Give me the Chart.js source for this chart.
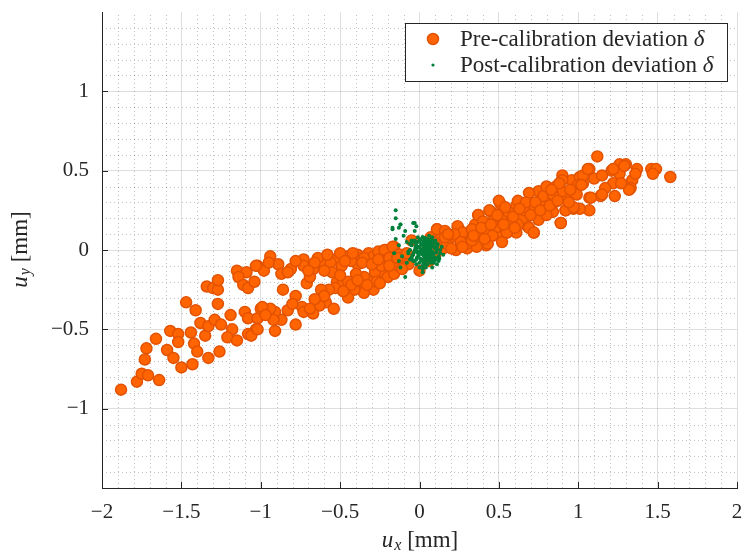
<!DOCTYPE html>
<html>
<head>
<meta charset="utf-8">
<script src="https://cdn.jsdelivr.net/npm/chart.js@4.4.1/dist/chart.umd.min.js"></script>
<style>
  body { margin: 0; background: #fff; }
  canvas { display: block; }
</style>
</head>
<body>
<canvas id="devChart" width="744" height="554"></canvas>
<script>
// pre-calibration deviation (mm)
const preX = [
  -1.88, -1.78, -1.75, -1.71, -1.64, -1.73, -1.72, -1.66, -1.59, -1.55, -1.50, -1.57, -1.52, -1.52,
  -1.47, -1.41, -1.44, -1.42, -1.40, -1.43, -1.35, -1.38, -1.33, -1.29, -1.25, -1.33, -1.26, -1.27,
  -1.34, -1.30, -1.27, -1.27, -1.19, -1.18, -1.21, -1.15, -1.15, -1.09, -1.14, -1.11, -1.08, -1.04,
  -1.02, -1.10, -1.08, -1.02, -1.00, -1.03, -1.08, -1.06,
  -0.94, -0.98, -1.03, -0.89, -0.87, -0.81, -0.73, -0.73, -0.67, -0.61, -0.53, -0.49, -0.45, -0.39,
  -0.39, -0.32, -0.29, -0.22, -0.21, -0.16, -0.17, -0.12, -0.56, -0.83, -0.71, -0.86, -0.52, -0.48,
  -0.45, -0.37, -0.31, -0.23, -0.20, -0.29, -0.35, -0.41, -0.45, -0.53, -0.57, -0.62, -0.59, -0.63,
  -0.54, -0.78, -0.74, -0.73, -0.67, -0.83, -0.87, -0.91, -0.94, -0.99, -0.78, -0.91, -1.02, -0.35,
  -0.28, -0.16, -0.16,
  -0.64, -0.58, -0.43, -0.35, -0.26, -0.24, -0.10, -0.13, -0.40, -0.27, -0.55, -0.95, -0.78, -0.69,
  -0.22, -0.17, -0.13, -0.19, 0.11, 0.13, 0.15, 0.10, -0.07, -0.11, 0.00, 0.06, -0.05, 0.05,
  0.07, 0.11, 0.16, 0.13, 0.20, 0.23, 0.25, 0.28, 0.30, 0.31, 0.35, 0.37, 0.38, 0.42, 0.43, 0.45,
  0.47, 0.51, 0.52, 0.50, 0.52, 0.55, 0.57, 0.61, 0.61, 0.64, 0.68, 0.69, 0.72, 0.75, 0.79, 0.84,
  0.89, 0.92, 0.96, 0.43, 0.36, 0.17, 0.20,
  1.12, 0.90, 0.96, 1.01, 1.07, 1.10, 1.00, 1.03, 1.15, 1.21, 1.26, 1.30, 1.37, 1.46, 1.49, 1.58,
  1.47, 1.26, 1.34, 1.36, 1.33, 1.32, 1.22, 1.17, 1.14, 1.23, 1.07, 0.98, 1.07, 1.01, 0.97, 0.89,
  0.92, 0.86, 0.79, 0.75, 0.69, 0.50, 0.62, 0.56, 0.44, 0.37, 0.69, 0.72, 0.24, 0.16, 0.30, 0.55,
  0.71, 0.78, 1.22, 1.29, 1.27, 1.15, 1.08, 0.99, 0.92, 0.90, 0.90, 1.03, 1.06, 1.02, 0.97,
  0.40, 0.48, 0.58, 0.65, 0.80, 0.85, 0.62, 0.33, 0.27, 0.46, 0.84, 0.80,
  0.22, 0.26, 0.33, 0.39, 0.41, 0.45, 0.49, 0.53, 0.54, 0.59, 0.60, 0.66, 0.67, 0.70, 0.73, 0.76,
  0.82, 0.87, 0.94, 0.95, 0.88, 0.83, 0.63, 0.18, 0.09, 0.27, 0.34,
  -0.50, -0.47, -0.42, -0.36, -0.30, -0.26, -0.19, -0.14, -0.08, -0.66, -0.70, -0.60, -0.50, -0.43,
  -0.39, -0.33, -0.25, -0.48, -0.60, -0.66, -0.69, -0.80, -0.92, -0.97
];
const preY = [
  -0.88, -0.83, -0.78, -0.79, -0.82, -0.69, -0.62, -0.56, -0.63, -0.68, -0.74, -0.51, -0.53, -0.58,
  -0.33, -0.38, -0.52, -0.59, -0.64, -0.72, -0.54, -0.46, -0.48, -0.44, -0.47, -0.68, -0.64, -0.34,
  -0.23, -0.24, -0.25, -0.19, -0.41, -0.50, -0.55, -0.57, -0.13, -0.14, -0.17, -0.22, -0.24, -0.20,
  -0.10, -0.39, -0.43, -0.43, -0.37, -0.50, -0.53, -0.54,
  -0.04, -0.13, -0.10, -0.09, -0.15, -0.12, -0.06, -0.10, -0.12, -0.08, -0.06, -0.10, -0.04, -0.09,
  -0.03, -0.02, -0.04, -0.07, 0.00, 0.02, -0.06, -0.03, -0.08, -0.14, -0.21, -0.25, -0.20, -0.20,
  -0.20, -0.20, -0.19, -0.14, -0.17, -0.25, -0.27, -0.25, -0.30, -0.24, -0.25, -0.25, -0.33, -0.35,
  -0.37, -0.29, -0.36, -0.39, -0.40, -0.38, -0.44, -0.39, -0.37, -0.36, -0.47, -0.51, -0.50, -0.17,
  -0.14, -0.08, -0.15,
  -0.05, -0.03, -0.07, -0.05, -0.01, -0.10, -0.07, -0.10, -0.15, -0.20, -0.14, -0.08, -0.07, -0.17,
  0.00, 0.02, -0.03, -0.05, 0.13, 0.07, 0.01, -0.03, -0.09, -0.12, -0.13, -0.07, 0.06, 0.03,
  0.08, 0.13, 0.12, 0.04, 0.08, 0.00, 0.13, 0.08, 0.01, 0.11, 0.16, 0.22, 0.08, 0.03, 0.12, 0.24,
  0.19, 0.29, 0.20, 0.11, 0.05, 0.11, 0.24, 0.28, 0.11, 0.22, 0.15, 0.27, 0.11, 0.19, 0.29, 0.24,
  0.17, 0.25, 0.27, 0.04, 0.02, 0.04, 0.01,
  0.59, 0.47, 0.44, 0.46, 0.51, 0.45, 0.41, 0.42, 0.47, 0.50, 0.54, 0.54, 0.51, 0.51, 0.51, 0.46,
  0.48, 0.48, 0.44, 0.48, 0.39, 0.38, 0.42, 0.39, 0.34, 0.34, 0.33, 0.36, 0.25, 0.26, 0.26, 0.17,
  0.25, 0.40, 0.31, 0.37, 0.36, 0.31, 0.31, 0.24, 0.25, 0.22, 0.14, 0.11, 0.15, 0.08, 0.04, 0.11,
  0.27, 0.34, 0.51, 0.53, 0.42, 0.35, 0.33, 0.35, 0.34, 0.37, 0.44, 0.47, 0.51, 0.41, 0.27,
  0.18, 0.14, 0.18, 0.20, 0.22, 0.30, 0.16, 0.06, 0.11, 0.09, 0.35, 0.40,
  0.10, 0.05, 0.13, 0.14, 0.07, 0.16, 0.22, 0.16, 0.27, 0.21, 0.14, 0.25, 0.30, 0.22, 0.30, 0.25,
  0.28, 0.31, 0.30, 0.38, 0.42, 0.38, 0.26, 0.10, 0.05, 0.02, 0.09,
  -0.02, -0.07, -0.02, -0.08, -0.09, -0.06, -0.10, -0.05, -0.02, -0.08, -0.13, -0.13, -0.16, -0.22,
  -0.19, -0.22, -0.21, -0.26, -0.29, -0.31, -0.37, -0.34, -0.44, -0.41
];

// post-calibration deviation (mm)
const postX = [
  0.02, 0.04, 0.00, 0.05, -0.01, 0.06, 0.02, -0.02, 0.03, 0.07, 0.01, 0.04, -0.03, 0.08, 0.06, 0.00,
  0.09, -0.04, 0.02, 0.07, -0.02, 0.10, 0.03, -0.05, 0.08, 0.05, 0.01, 0.06, 0.03, 0.04, 0.00, 0.05,
  0.01, 0.07, 0.06, -0.02, 0.09, -0.01, 0.03, 0.08, 0.04, -0.04, 0.11, 0.00, 0.12, 0.04, -0.05, 0.10,
  0.05, -0.03, 0.13, -0.06, 0.05, 0.07, 0.02, 0.08, 0.11, -0.04, 0.13, -0.01, 0.02, 0.10, 0.09, -0.05,
  0.12, 0.04, -0.07, 0.14, -0.02, 0.06, 0.15, -0.06, 0.11, 0.08,
  0.015, 0.035, 0.045, 0.065, 0.025, 0.075, -0.005, 0.035, 0.085, 0.015, 0.095, -0.025, 0.055, 0.045,
  -0.015, 0.075, 0.105, 0.025, -0.035, 0.055, 0.115, 0.065, -0.025, 0.025, 0.095, 0.005, 0.085, -0.045,
  0.125, 0.035, 0.055, 0.035, 0.065, 0.015, 0.075, 0.045, -0.005, 0.095, 0.025, 0.005,
  -0.15, -0.04, -0.02, -0.12, -0.13, -0.17, -0.09, -0.03, -0.15, -0.10, -0.08, -0.13, 0.02, 0.06,
  0.10, 0.11, 0.12, 0.09, 0.08, 0.03, 0.00, -0.05, -0.06, -0.08, -0.11, 0.02, -0.03, 0.04, 0.06,
  -0.07, -0.02, -0.15, -0.12, -0.03, -0.17, -0.16, -0.13, -0.12, -0.09, 0.02, 0.11
];
const postY = [
  -0.01, 0.01, 0.02, -0.03, -0.02, 0.02, 0.04, 0.03, -0.05, -0.01, -0.06, 0.05, 0.00, 0.03, -0.05, 0.06,
  -0.02, -0.03, -0.07, 0.05, -0.06, 0.01, 0.07, 0.03, -0.06, 0.00, 0.00, 0.04, 0.02, -0.02, -0.01, 0.03,
  0.04, 0.01, -0.03, -0.01, 0.04, 0.05, -0.03, -0.01, -0.07, 0.05, 0.02, -0.08, -0.04, 0.06, -0.05, -0.05,
  0.07, 0.06, 0.00, 0.00, -0.09, -0.08, -0.10, 0.06, 0.04, -0.07, -0.02, 0.08, 0.08, 0.06, -0.08, 0.06,
  -0.07, -0.11, -0.02, 0.02, -0.09, 0.09, -0.03, 0.04, -0.09, 0.08,
  0.005, -0.015, 0.025, -0.015, -0.035, 0.025, -0.035, 0.045, -0.035, 0.035, 0.015, 0.015, 0.045, -0.045,
  -0.045, -0.055, -0.015, 0.055, -0.015, -0.065, 0.035, 0.065, 0.045, -0.085, -0.065, 0.065, 0.045, -0.035,
  -0.055, 0.075, 0.015, 0.005, 0.035, -0.025, -0.035, 0.045, 0.015, -0.045, 0.025, -0.055,
  0.20, 0.17, 0.15, 0.16, 0.14, 0.13, 0.12, 0.12, 0.07, 0.09, 0.05, 0.03, 0.08, 0.06,
  0.05, 0.00, -0.05, -0.07, -0.11, -0.09, -0.11, -0.05, -0.06, -0.08, -0.04, -0.12, -0.07, -0.03, -0.01,
  -0.01, 0.01, 0.25, 0.16, 0.17, 0.14, -0.02, -0.07, -0.11, -0.17, -0.14, -0.06
];

const xTicks = [-2, -1.5, -1, -0.5, 0, 0.5, 1, 1.5, 2];
const yTicks = [-1, -0.5, 0, 0.5, 1];

const serif = '"Liberation Serif", "DejaVu Serif", serif';
const axisColor = '#262626';

function toPoints(xs, ys) {
    return xs.map(function (v, i) { return { x: v, y: ys[i] }; });
}

function fmt(v) {
    return v < 0 ? '\u2212' + Math.abs(v) : String(v);
}

// text with a subscript, e.g. u_x [mm]
function drawSubLabel(ctx, base, sub, rest, cx, cy, rotate) {
    ctx.save();
    ctx.translate(cx, cy);
    if (rotate) ctx.rotate(-Math.PI / 2);
    const big = 'italic 23px ' + serif;
    const small = 'italic 16px ' + serif;
    const plain = '23px ' + serif;
    ctx.font = big; const w1 = ctx.measureText(base).width;
    ctx.font = small; const w2 = ctx.measureText(sub).width;
    ctx.font = plain; const w3 = ctx.measureText(rest).width;
    let x = -(w1 + w2 + w3) / 2;
    ctx.fillStyle = axisColor;
    ctx.textBaseline = 'middle';
    ctx.textAlign = 'left';
    ctx.font = big; ctx.fillText(base, x, 0); x += w1 + 1;
    ctx.font = small; ctx.fillText(sub, x, 5); x += w2;
    ctx.font = plain; ctx.fillText(rest, x, 0);
    ctx.restore();
}

const extras = {
    id: 'extras',
    beforeDatasetsDraw(chart) {
        const ctx = chart.ctx, a = chart.chartArea;
        const xs = chart.scales.x, ys = chart.scales.y;
        ctx.save();
        // minor grid, dotted
        ctx.strokeStyle = 'rgba(0,0,0,0.24)';
        ctx.lineWidth = 1;
        ctx.setLineDash([1, 3]);
        for (let i = -20; i <= 20; i++) {
            if (i % 5 === 0) continue;
            const px = Math.round(xs.getPixelForValue(i / 10)) + 0.5;
            ctx.beginPath(); ctx.moveTo(px, a.bottom); ctx.lineTo(px, a.top); ctx.stroke();
        }
        for (let i = -15; i <= 15; i++) {
            if (i % 5 === 0) continue;
            const py = Math.round(ys.getPixelForValue(i / 10)) + 0.5;
            ctx.beginPath(); ctx.moveTo(a.left, py); ctx.lineTo(a.right, py); ctx.stroke();
        }
        ctx.restore();
    },
    afterDraw(chart) {
        const ctx = chart.ctx, a = chart.chartArea;
        const xs = chart.scales.x, ys = chart.scales.y;
        ctx.save();
        // inward tick marks
        ctx.strokeStyle = axisColor;
        ctx.lineWidth = 1;
        xTicks.forEach(function (v) {
            const px = Math.round(xs.getPixelForValue(v)) + 0.5;
            ctx.beginPath(); ctx.moveTo(px, a.bottom); ctx.lineTo(px, a.bottom - 6); ctx.stroke();
        });
        yTicks.forEach(function (v) {
            const py = Math.round(ys.getPixelForValue(v)) + 0.5;
            ctx.beginPath(); ctx.moveTo(a.left, py); ctx.lineTo(a.left + 6, py); ctx.stroke();
        });

        // legend box
        const lx = 405.5, ly = 23.5, lw = 322, lh = 58;
        ctx.fillStyle = '#fff';
        ctx.fillRect(lx, ly, lw, lh);
        ctx.strokeStyle = axisColor;
        ctx.strokeRect(lx, ly, lw, lh);
        ctx.beginPath();
        ctx.arc(433, 39, 5.5, 0, Math.PI * 2);
        ctx.fillStyle = '#FF6400'; ctx.fill();
        ctx.lineWidth = 1.5; ctx.strokeStyle = '#E25200'; ctx.stroke();
        ctx.beginPath();
        ctx.arc(433, 65, 1.6, 0, Math.PI * 2);
        ctx.fillStyle = '#00803A'; ctx.fill();
        ctx.fillStyle = axisColor;
        ctx.textBaseline = 'middle';
        ctx.textAlign = 'left';
        const entries = ['Pre-calibration deviation ', 'Post-calibration deviation '];
        entries.forEach(function (t, i) {
            const ty = 40 + i * 26;
            ctx.font = '23px ' + serif;
            ctx.fillText(t, 460, ty);
            const w = ctx.measureText(t).width;
            ctx.font = 'italic 23px ' + serif;
            ctx.fillText('\u03b4', 460 + w, ty);
        });
        ctx.restore();

        drawSubLabel(ctx, 'u', 'x', ' [mm]', (a.left + a.right) / 2, 541, false);
        drawSubLabel(ctx, 'u', 'y', ' [mm]', 21, (a.top + a.bottom) / 2, true);
    }
};

const ctx = document.getElementById('devChart').getContext('2d');
const devChart = new Chart(ctx, {
    type: 'scatter',
    data: {
        datasets: [
            {
                label: 'Pre-calibration deviation \u03b4',
                data: toPoints(preX, preY),
                order: 2,
                pointRadius: 5.5,
                pointBorderWidth: 1.5,
                backgroundColor: '#FF6400',
                borderColor: '#E25200'
            },
            {
                label: 'Post-calibration deviation \u03b4',
                data: toPoints(postX, postY),
                order: 1,
                pointRadius: 2,
                pointBorderWidth: 0,
                backgroundColor: '#00803A',
                borderColor: '#00803A'
            }
        ]
    },
    options: {
        responsive: false,
        animation: false,
        layout: { padding: { top: 12, right: 5, left: 0, bottom: 0 } },
        scales: {
            x: {
                type: 'linear',
                min: -2,
                max: 2,
                afterBuildTicks: function (scale) {
                    scale.ticks = xTicks.map(function (v) { return { value: v }; });
                },
                afterFit: function (scale) {
                    scale.height = 66;
                    scale.paddingLeft = 0;
                    scale.paddingRight = 0;
                },
                ticks: {
                    padding: 12,
                    color: axisColor,
                    font: { family: serif, size: 21 },
                    maxRotation: 0,
                    autoSkip: false,
                    callback: function (v) { return fmt(v); }
                },
                grid: { color: 'rgba(0,0,0,0.13)', drawTicks: false },
                border: { color: axisColor, width: 1 }
            },
            y: {
                type: 'linear',
                min: -1.5,
                max: 1.5,
                afterBuildTicks: function (scale) {
                    scale.ticks = yTicks.map(function (v) { return { value: v }; });
                },
                afterFit: function (scale) {
                    scale.width = 102;
                    scale.paddingTop = 0;
                    scale.paddingBottom = 0;
                },
                ticks: {
                    padding: 13,
                    color: axisColor,
                    font: { family: serif, size: 21 },
                    autoSkip: false,
                    callback: function (v) { return fmt(v); }
                },
                grid: { color: 'rgba(0,0,0,0.13)', drawTicks: false },
                border: { color: axisColor, width: 1 }
            }
        },
        plugins: {
            legend: { display: false },
            tooltip: { enabled: false }
        }
    },
    plugins: [extras]
});
</script>
</body>
</html>
